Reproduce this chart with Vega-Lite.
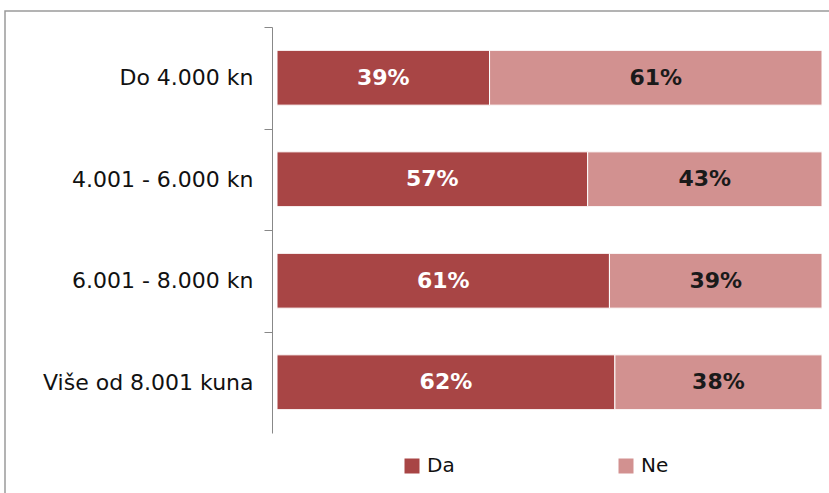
{
  "$schema": "https://vega.github.io/schema/vega-lite/v6.json",
  "autosize": "none",
  "padding": {"left": 5, "top": 11, "right": 0, "bottom": 0},
  "width": 830,
  "height": 490,
  "background": "white",
  "config": {
    "view": {"stroke": "#9a9a9a", "strokeWidth": 1.5},
    "font": "DejaVu Sans"
  },
  "data": {
    "values": [
      {"cat": "Do 4.000 kn", "answer": "Da", "value": 39, "label": "39%"},
      {"cat": "Do 4.000 kn", "answer": "Ne", "value": 61, "label": "61%"},
      {"cat": "4.001 - 6.000 kn", "answer": "Da", "value": 57, "label": "57%"},
      {"cat": "4.001 - 6.000 kn", "answer": "Ne", "value": 43, "label": "43%"},
      {"cat": "6.001 - 8.000 kn", "answer": "Da", "value": 61, "label": "61%"},
      {"cat": "6.001 - 8.000 kn", "answer": "Ne", "value": 39, "label": "39%"},
      {"cat": "Više od 8.001 kuna", "answer": "Da", "value": 62, "label": "62%"},
      {"cat": "Više od 8.001 kuna", "answer": "Ne", "value": 38, "label": "38%"}
    ]
  },
  "encoding": {
    "y": {
      "field": "cat",
      "type": "nominal",
      "sort": null,
      "scale": {"range": [16, 422], "paddingInner": 0.46, "paddingOuter": 0.23},
      "axis": {
        "title": null,
        "offset": -267,
        "bandPosition": 0,
        "tickOffset": -23.3,
        "labelOffset": 23.3,
        "domainColor": "#888888",
        "tickColor": "#888888",
        "tickSize": 8,
        "labelPadding": 11,
        "labelFontSize": 22,
        "labelLimit": 400,
        "labelColor": "#111111",
        "labelFont": "DejaVu Sans"
      }
    },
    "order": {"field": "answer", "type": "ordinal", "sort": "ascending"}
  },
  "layer": [
    {
      "mark": {"type": "bar", "stroke": "white", "strokeWidth": 1},
      "encoding": {
        "x": {
          "field": "value",
          "type": "quantitative",
          "stack": "zero",
          "scale": {"domain": [0, 100], "range": [272, 817], "nice": false},
          "axis": null
        },
        "color": {
          "field": "answer",
          "type": "nominal",
          "scale": {"domain": ["Da", "Ne"], "range": ["#A84545", "#D29190"]},
          "legend": {
            "title": null,
            "orient": "none",
            "legendX": 397,
            "legendY": 445,
            "direction": "horizontal",
            "symbolType": "square",
            "symbolSize": 225,
            "symbolStrokeWidth": 0,
            "labelFontSize": 20,
            "labelFont": "DejaVu Sans",
            "labelColor": "#111111",
            "labelOffset": 5,
            "columnPadding": 161
          }
        }
      }
    },
    {
      "mark": {"type": "text", "font": "DejaVu Sans", "fontWeight": "bold", "fontSize": 22, "baseline": "middle", "align": "center"},
      "encoding": {
        "x": {
          "field": "value",
          "type": "quantitative",
          "stack": "zero",
          "bandPosition": 0.5
        },
        "detail": {"field": "answer", "type": "nominal"},
        "text": {"field": "label", "type": "nominal"},
        "color": {
          "condition": {"test": "datum.answer === 'Da'", "value": "white"},
          "value": "#1a1a1a"
        }
      }
    }
  ]
}
